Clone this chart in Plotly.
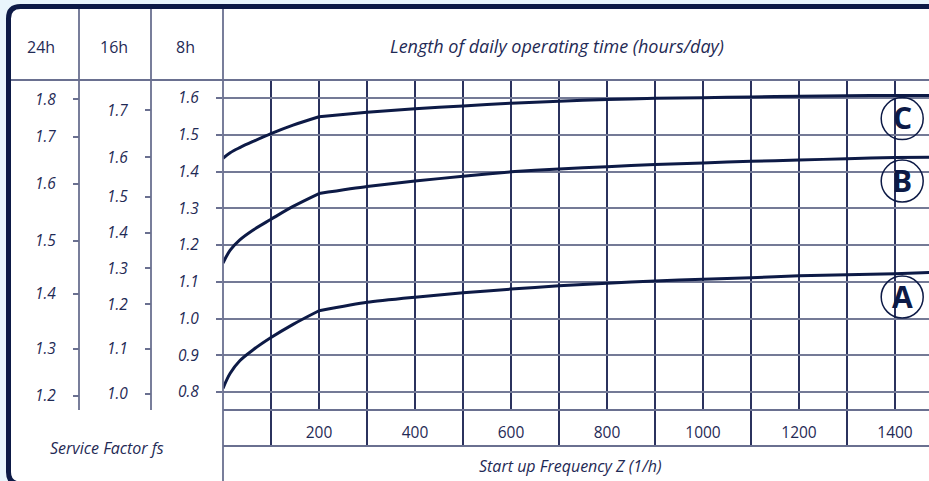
import plotly.graph_objects as go

W, H = 929, 481

# ---------------- data ----------------
z_freq = [0, 15, 35, 63, 100, 146, 200, 300, 400, 500, 600, 700, 800,
          900, 1000, 1100, 1200, 1300, 1400, 1471]
curve_A = [0.810, 0.851, 0.885, 0.915, 0.948, 0.984, 1.021, 1.044, 1.058, 1.070,
           1.080, 1.089, 1.096, 1.102, 1.107, 1.111, 1.116, 1.119, 1.122, 1.125]
curve_B = [1.151, 1.186, 1.214, 1.241, 1.270, 1.305, 1.340, 1.359, 1.374, 1.387,
           1.399, 1.407, 1.413, 1.419, 1.423, 1.428, 1.431, 1.435, 1.438, 1.439]
curve_C = [1.436, 1.451, 1.465, 1.482, 1.503, 1.526, 1.549, 1.561, 1.571, 1.578,
           1.586, 1.591, 1.596, 1.599, 1.601, 1.603, 1.605, 1.606, 1.607, 1.607]
curve_names = ["A", "B", "C"]

x_tick_vals = [200, 400, 600, 800, 1000, 1200, 1400]
x_tick_text = ["200", "400", "600", "800", "1000", "1200", "1400"]
x_row_dividers = [100, 300, 500, 700, 900, 1100, 1300]

fs8_vals = [0.8, 0.9, 1.0, 1.1, 1.2, 1.3, 1.4, 1.5, 1.6]
fs8_text = ["0.8", "0.9", "1.0", "1.1", "1.2", "1.3", "1.4", "1.5", "1.6"]
fs16_text = ["1.0", "1.1", "1.2", "1.3", "1.4", "1.5", "1.6", "1.7"]
fs16_on_8h = [0.795, 0.917, 1.039, 1.137, 1.233, 1.331, 1.439, 1.567]
fs24_text = ["1.2", "1.3", "1.4", "1.5", "1.6", "1.7", "1.8"]
fs24_on_8h = [0.789, 0.917, 1.067, 1.211, 1.366, 1.494, 1.597]

header_labels = ["24h", "16h", "8h"]
title_top = "Length of daily operating time (hours/day)"
title_bottom = "Start up Frequency Z (1/h)"
title_left = "Service Factor fs"

# ---------------- styling ----------------
NAVY = "#0d1a46"
TEXT = "#1f2a55"
GRID_H = "#747a96"
GRID_V = "#2b325e"
DIV = "#6a7090"
BG = "#e9f5fc"
FONT = "Open Sans"

X_RANGE = [0, (W - 223) / 0.48]
Y_RANGE = [0.8 - 18 / 367.5, 0.8 + 312 / 367.5]


def px(x):
    return x / W


def py(y):
    return 1 - y / H


fig = go.Figure()

split = z_freq.index(200)
for name, ys in zip(curve_names, [curve_A, curve_B, curve_C]):
    fig.add_trace(go.Scatter(x=z_freq[:split + 1], y=ys[:split + 1], mode="lines",
                             line=dict(color=NAVY, width=3, shape="spline", smoothing=1.0),
                             showlegend=False, name=name, hoverinfo="skip"))
    fig.add_trace(go.Scatter(x=z_freq[split:], y=ys[split:], mode="lines",
                             line=dict(color=NAVY, width=3, shape="spline", smoothing=0.6),
                             showlegend=False, name=name, hoverinfo="skip"))

fig.add_trace(go.Scatter(x=[None], y=[None], xaxis="x2", yaxis="y2", showlegend=False))
fig.add_trace(go.Scatter(x=[None], y=[None], yaxis="y3", showlegend=False))
fig.add_trace(go.Scatter(x=[None], y=[None], yaxis="y4", showlegend=False))

shapes = []
# frame
r = 12
x0f, y0f, x1f, y1f = 8.5, 6.5, 960, 484
path = (f"M {px(x0f + r)},{py(y0f)} L {px(x1f)},{py(y0f)} L {px(x1f)},{py(y1f)} "
        f"L {px(x0f + r)},{py(y1f)} Q {px(x0f)},{py(y1f)} {px(x0f)},{py(y1f - r)} "
        f"L {px(x0f)},{py(y0f + r)} Q {px(x0f)},{py(y0f)} {px(x0f + r)},{py(y0f)} Z")
shapes.append(dict(type="path", path=path, xref="paper", yref="paper",
                   fillcolor="white", line=dict(color=NAVY, width=5), layer="below"))


def hline(y, xa, xb, color=DIV, w=1.8):
    shapes.append(dict(type="line", xref="paper", yref="paper", x0=px(xa), x1=px(xb),
                       y0=py(y), y1=py(y), line=dict(color=color, width=w), layer="above"))


def vline(x, ya, yb, color=DIV, w=1.8):
    shapes.append(dict(type="line", xref="paper", yref="paper", x0=px(x), x1=px(x),
                       y0=py(ya), y1=py(yb), line=dict(color=color, width=w), layer="above"))


hline(80, 11, W)
hline(410, 223, W)
hline(446, 223, W)
vline(79, 9, 410)
vline(151, 9, 410)
vline(223, 9, H)

# circled letters
label_pos = {"C": 1.544, "B": 1.374, "A": 1.0585}
annotations = []
for name in curve_names:
    shapes.append(dict(type="circle", xref="x", yref="y", xsizemode="pixel", ysizemode="pixel",
                       xanchor=1415, yanchor=label_pos[name], x0=-21, x1=21, y0=-21, y1=21,
                       line=dict(color=NAVY, width=1.5), fillcolor="rgba(255,255,255,0)",
                       layer="above"))
    annotations.append(dict(x=1415, y=label_pos[name], xref="x", yref="y", text=f"<b>{name}</b>",
                            showarrow=False, font=dict(family=FONT, size=30, color=NAVY),
                            xanchor="center", yanchor="middle", yshift=1))

for lbl, cx in zip(header_labels, [41, 114, 185]):
    annotations.append(dict(x=px(cx), y=py(47), xref="paper", yref="paper", text=lbl,
                            showarrow=False, font=dict(family=FONT, size=16, color=TEXT),
                            xanchor="center", yanchor="middle"))
annotations.append(dict(x=px(557), y=py(46), xref="paper", yref="paper", text=f"<i>{title_top}</i>",
                        showarrow=False, font=dict(family=FONT, size=18, color=TEXT),
                        xanchor="center", yanchor="middle"))
annotations.append(dict(x=px(570), y=py(466), xref="paper", yref="paper", text=f"<i>{title_bottom}</i>",
                        showarrow=False, font=dict(family=FONT, size=16, color=TEXT),
                        xanchor="center", yanchor="middle"))
annotations.append(dict(x=px(107), y=py(448), xref="paper", yref="paper", text=f"<i>{title_left}</i>",
                        showarrow=False, font=dict(family=FONT, size=16, color=TEXT),
                        xanchor="center", yanchor="middle"))

tickfont = dict(family=FONT, size=15.5, color=TEXT)
y_dom = [py(410), py(80)]
x_dom = [px(223), 1]

fig.update_layout(
    width=W, height=H,
    margin=dict(l=0, r=0, t=0, b=0),
    paper_bgcolor=BG,
    plot_bgcolor="rgba(0,0,0,0)",
    showlegend=False,
    shapes=shapes,
    annotations=annotations,
    xaxis=dict(domain=x_dom, range=X_RANGE, anchor="y",
               tickmode="array", tickvals=x_tick_vals, ticktext=x_tick_text,
               ticks="", tickfont=tickfont, ticklabelstandoff=11,
               showgrid=True, gridcolor=GRID_V, gridwidth=1.5,
               minor=dict(tick0=0, dtick=100, showgrid=True, gridcolor=GRID_V, gridwidth=1.5),
               zeroline=False, showline=False),
    yaxis=dict(domain=y_dom, range=Y_RANGE, anchor="x",
               tickmode="array", tickvals=fs8_vals, ticktext=[f"<i>{t}</i>" for t in fs8_text],
               ticks="outside", ticklen=6, tickwidth=1.5, tickcolor=DIV,
               tickfont=tickfont, ticklabelstandoff=14,
               showgrid=True, gridcolor=GRID_H, gridwidth=2,
               zeroline=False, showline=False),
    yaxis3=dict(overlaying="y", anchor="free", position=px(151), side="left", range=Y_RANGE,
                tickmode="array", tickvals=fs16_on_8h, ticktext=[f"<i>{t}</i>" for t in fs16_text],
                ticks="outside", ticklen=6, tickwidth=1.5, tickcolor=DIV,
                tickfont=tickfont, ticklabelstandoff=14,
                showgrid=False, zeroline=False, showline=False),
    yaxis4=dict(overlaying="y", anchor="free", position=px(79), side="left", range=Y_RANGE,
                tickmode="array", tickvals=fs24_on_8h, ticktext=[f"<i>{t}</i>" for t in fs24_text],
                ticks="outside", ticklen=6, tickwidth=1.5, tickcolor=DIV,
                tickfont=tickfont, ticklabelstandoff=14,
                showgrid=False, zeroline=False, showline=False),
    xaxis2=dict(domain=x_dom, range=X_RANGE, anchor="y2",
                tickmode="array", tickvals=x_row_dividers, showticklabels=False, ticks="",
                showgrid=True, gridcolor=GRID_V, gridwidth=1.5, zeroline=False, showline=False),
    yaxis2=dict(domain=[py(446), py(410)], range=[0, 1], anchor="x2",
                showticklabels=False, ticks="", showgrid=False, zeroline=False, showline=False),
)

fig.write_html("out.html", config={"displayModeBar": False},
               post_script=("document.body.style.margin='0';document.body.style.overflow='hidden';"
                            f"document.body.style.background='{BG}';"))
